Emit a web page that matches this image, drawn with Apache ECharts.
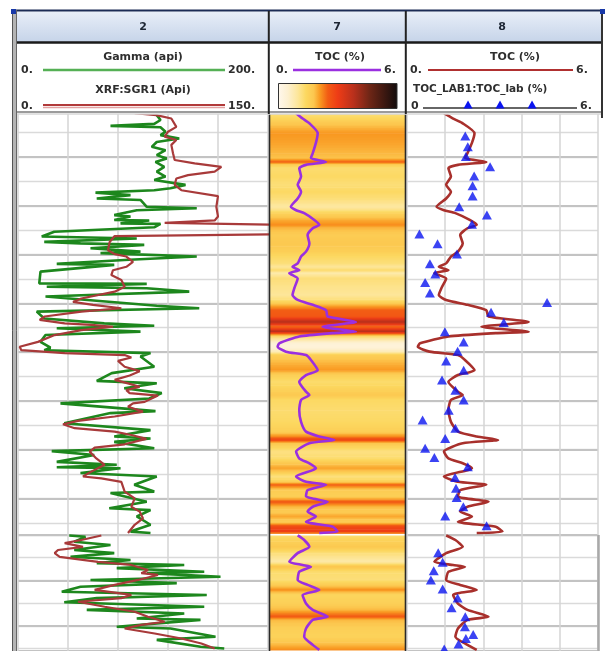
<!DOCTYPE html>
<html><head><meta charset="utf-8">
<script src="https://cdn.jsdelivr.net/npm/echarts@6/dist/echarts.min.js"></script>
<style>html,body{margin:0;padding:0;background:#fff}#c{width:605px;height:651px}</style>
</head><body><div id="c"></div>
<script>
// ---------------- data ----------------
const trackTitles = ['2', '7', '8'];
// Gamma (api), scale 0-200
const gammaDepth = [1.4,2.4,3.2,3.6,3.9,4.8,5.5,6.2,6.9,7.9,8.6,9.6,10.3,11.0,12.0,13.0,14.0,14.7,15.7,16.4,16.8,17.3,17.8,18.5,18.8,20.2,20.5,20.9,21.9,22.2,22.9,23.0,23.6,23.7,24.4,25.3,26.3,26.7,27.4,27.7,28.0,28.7,29.4,29.7,30.4,31.1,31.9,32.1,33.5,35.9,36.0,36.6,36.9,37.6,38.6,40.5,41.0,41.7,43.1,44.1,44.6,45.1,45.8,46.5,47.9,49.1,49.6,50.2,50.9,53.0,54.3,55.9,56.4,57.4,58.4,59.5,60.5,62.1,62.5,64.6,66.0,67.3,67.7,68.4,69.7,70.3,71.1,72.5,73.1,73.6,73.8,74.8,75.5,77.2,78.6,78.9,80.7,82.0,82.4,83.7,85.4,86.8,87.1,
  100.1,100.4,101.5,102.2,103.3,104.0,104.8,105.5,106.2,106.6,107.3,108.1,108.4,109.2,109.9,110.6,111.4,112.5,113.2,113.9,114.8,115.8,116.5,117.3,118.4,118.7,120.2,120.6,122.4,123.1,124.6,125.0];
const gammaValue = [111,114,109,74,114,118,114,129,111,107,118,111,119,110,117,111,118,109,134,122,109,62,90,63,98,103,143,95,77,90,77,105,82,114,109,29,19,95,21,50,101,58,98,66,143,85,31,77,18,17,103,23,103,137,22,111,145,15,21,69,109,31,98,22,18,26,21,106,98,109,75,63,111,85,115,105,34,110,74,37,106,77,106,77,109,27,61,31,79,31,82,50,111,93,109,74,103,73,106,95,106,90,106,
  41,54,45,74,45,77,42,90,63,133,79,149,103,162,58,127,50,35,151,63,37,149,55,133,95,146,79,122,158,111,146,165];
// XRF:SGR1 (Api), scale 0-150
const sgrDepth = [1.0,1.4,2.1,3.8,4.8,5.8,6.5,7.5,9.2,10.6,11.3,12.0,13.0,13.7,14.4,15.7,16.8,18.0,20.2,22.2,23.0,23.5,23.9,25.8,26.2,27.4,29.1,29.9,30.4,31.5,32.5,33.2,34.2,35.2,36.6,37.6,39.0,39.7,40.3,41.0,41.7,42.7,43.4,44.1,44.4,44.8,45.5,46.5,47.9,48.9,49.6,50.2,50.6,51.1,51.8,53.0,53.9,54.8,55.7,56.4,57.1,57.8,58.4,58.9,60.2,60.5,61.2,62.2,63.2,64.1,64.8,65.6,66.3,67.0,67.8,68.9,69.6,70.4,71.8,73.1,74.5,75.5,75.9,76.6,78.6,80.0,81.7,82.7,84.1,85.4,87.1,
  100.1,101.1,101.8,102.6,103.3,104.0,104.8,105.9,106.6,107.7,108.4,108.8,109.9,111.0,112.1,113.2,113.9,114.7,115.8,116.9,118.0,119.1,119.8,120.6,121.7,122.8,123.9,125.0];
const sgrValue = [70,83,92,95,90,88,95,92,93,94,106,122,118,102,95,94,98,120,119,120,118,88,160,160,58,55,54,58,65,69,65,57,56,62,64,58,38,33,45,62,38,16,13,28,44,57,38,22,12,1,2,28,64,68,60,64,73,67,58,66,73,65,67,84,76,69,66,75,58,36,27,34,58,68,77,64,46,43,47,52,44,39,50,62,64,70,68,73,75,70,66,
  50,38,28,39,24,22,25,48,68,78,74,84,72,58,46,68,62,36,52,70,78,88,74,64,82,98,110,118];
// TOC (%), scale 0-6 (tracks 7 and 8)
const tocDepth = [1.0,2.1,3.0,5.1,7.1,9.2,10.2,11.0,11.6,12.3,14.0,15.7,17.1,18.5,20.2,20.9,21.5,22.9,23.9,24.6,26.0,27.7,29.4,30.4,31.8,32.5,33.2,33.8,34.9,36.9,38.3,39.3,40.3,41.4,42.7,43.8,44.8,45.8,46.1,46.8,48.2,48.9,49.9,50.6,51.6,53.7,54.7,56.1,58.1,58.8,59.8,61.9,64.3,66.3,67.3,68.0,68.7,70.4,71.8,72.8,73.8,74.2,75.5,76.6,77.2,78.3,79.6,80.7,81.7,82.7,83.7,84.8,85.8,86.8,87.1,
  100.1,101.1,102.6,104.0,105.9,106.6,107.0,108.1,109.9,111.0,112.1,113.2,115.1,116.5,118.0,118.7,120.6,122.4,124.2,125.3];
const tocValue = [1.16,1.45,1.73,2.12,2.04,1.9,1.82,2.49,1.6,1.3,1.38,1.23,1.38,1.23,0.93,1.16,1.52,1.97,2.19,1.9,1.67,1.75,1.6,1.38,1.23,1.0,1.3,0.86,1.23,1.08,1.0,1.23,1.9,2.49,2.56,3.82,2.34,3.82,2.79,1.3,0.41,0.34,0.71,1.6,1.82,2.12,1.6,1.3,1.6,1.75,1.38,1.3,1.38,1.6,2.19,2.86,1.75,1.16,1.3,1.75,2.04,1.9,1.16,1.6,2.49,1.67,1.6,2.56,1.9,1.67,2.04,1.6,2.79,3.0,2.19,
  1.23,1.52,1.75,1.23,0.86,1.45,1.82,1.3,1.23,1.67,2.19,1.45,1.6,1.9,2.56,1.9,1.6,1.52,1.9,2.19];
// TOC_LAB1:TOC_lab (%), scale 0-6
const labDepth = [5.7,7.9,9.9,12.0,13.9,15.9,18.0,20.2,21.9,23.8,25.8,27.8,29.9,31.9,34.0,35.7,37.9,39.8,41.8,43.9,45.8,47.9,49.8,51.8,53.7,55.7,57.8,59.8,61.9,63.9,65.6,67.7,69.7,71.6,73.5,75.7,77.9,79.8,81.7,83.6,85.6,
  103.9,106.0,107.9,109.9,111.9,113.9,116.0,118.0,120.2,121.9,122.8,124.0,125.1];
const labValue = [1.83,1.91,1.85,2.61,2.11,2.06,2.06,1.64,2.51,2.04,0.39,0.96,1.57,0.72,0.89,0.57,0.72,4.4,2.64,3.04,1.19,1.78,1.59,1.23,1.78,1.1,1.52,1.78,1.31,0.49,1.52,1.2,0.57,0.86,1.91,1.51,1.54,1.56,1.77,1.2,2.5,
  0.98,1.12,0.84,0.75,1.12,1.59,1.4,1.83,1.82,2.08,1.85,1.62,1.17];

// ---------------- styling / layout ----------------
const tocStops = [[0,'#fff8ee'],[0.5,'#fdf0d0'],[1.0,'#fde69a'],[1.4,'#fcd860'],[1.8,'#fcc64e'],[2.1,'#f99a22'],[2.5,'#f25c14'],[3.0,'#ee3c16'],[3.8,'#b8301c'],[4.6,'#6e2616'],[6,'#120c0c']];
function h2r(h){return [parseInt(h.slice(1,3),16),parseInt(h.slice(3,5),16),parseInt(h.slice(5,7),16)];}
function tocColor(v){
  v = Math.max(0, Math.min(6, v));
  for (let i=0;i<tocStops.length-1;i++){
    const a=tocStops[i], b=tocStops[i+1];
    if (v<=b[0]){
      const t=(v-a[0])/(b[0]-a[0]); const ca=h2r(a[1]), cb=h2r(b[1]);
      return 'rgb('+ca.map((c,k)=>Math.round(c+(cb[k]-c)*t)).join(',')+')';
    }
  }
  return tocStops[tocStops.length-1][1];
}
const tracks = [{left:18,width:250},{left:270,width:135},{left:407,width:191}];
const segs = [{top:108.3,height:426.7,min:0,max:87.5},{top:535,height:116,min:100,max:125.55}];
const minorLine = {color:'#dadada', width:1.3};
const majorLine = {color:'#c3c3c3', width:2};
const vLine = {color:'#d4d4d4', width:1.5};

function isLowerDepth(d){ return d >= 95; }
function pairs(depths, values, lower){
  const out=[];
  for (let i=0;i<depths.length;i++) if (isLowerDepth(depths[i])===lower) out.push([values[i], depths[i]]);
  return out;
}
function bandData(lower){
  const out=[];
  for (let i=0;i<tocDepth.length-1;i++){
    if (isLowerDepth(tocDepth[i])===lower && isLowerDepth(tocDepth[i+1])===lower)
      out.push([tocDepth[i], tocValue[i], tocDepth[i+1], tocValue[i+1]]);
  }
  return out;
}
function bandItem(params, api){
  const d0=api.value(0), v0=api.value(1), d1=api.value(2), v1=api.value(3);
  const N=6, children=[];
  for (let k=0;k<N;k++){
    const a=d0+(d1-d0)*k/N, b=d0+(d1-d0)*(k+1)/N, v=v0+(v1-v0)*(k+0.5)/N;
    const p0=api.coord([0,a]), p1=api.coord([6,b]);
    children.push({type:'rect', shape:{x:p0[0], y:p0[1], width:p1[0]-p0[0], height:p1[1]-p0[1]+0.7}, style:{fill:tocColor(v)}});
  }
  return {type:'group', children};
}

const grids=[], xAxes=[], yAxes=[], series=[], ax={};
function yAxis(gi,s,interval,split){
  return {type:'value', gridIndex:gi, inverse:true, min:s.min, max:s.max, interval,
    axisLine:{show:false}, axisTick:{show:false}, axisLabel:{show:false},
    splitLine: split?{show:true, lineStyle:split}:{show:false}};
}
function xAxis(gi,min,max,interval,split){
  return {type:'value', gridIndex:gi, position:'top', min, max, interval,
    axisLine:{show:false}, axisTick:{show:false}, axisLabel:{show:false},
    splitLine: split?{show:true, lineStyle:split}:{show:false}};
}
segs.forEach((s,si)=>{
  tracks.forEach((t,ti)=>{
    const gi=grids.length;
    grids.push({left:t.left, top:s.top, width:t.width, height:s.height, containLabel:false, outerBoundsMode:'none', show:false});
    const showGrid = ti!==1;
    ax['y'+si+ti]=yAxes.length;
    yAxes.push(yAxis(gi,s,5,showGrid?minorLine:null));
    yAxes.push(yAxis(gi,s,10,showGrid?majorLine:null));
    if (ti===0){ ax['xg'+si]=xAxes.length; xAxes.push(xAxis(gi,0,200,40,vLine)); ax['xs'+si]=xAxes.length; xAxes.push(xAxis(gi,0,150,30,null)); }
    else if (ti===1){ ax['x7'+si]=xAxes.length; xAxes.push(xAxis(gi,0,6,1,null)); }
    else { ax['x8'+si]=xAxes.length; xAxes.push(xAxis(gi,0,6,1.2,vLine)); }
  });
});
segs.forEach((s,si)=>{
  const lower = si===1;
  series.push({type:'line', name:'Gamma', xAxisIndex:ax['xg'+si], yAxisIndex:ax['y'+si+'0'], data:pairs(gammaDepth,gammaValue,lower),
    symbol:'none', lineStyle:{color:'#1d871d', width:2.6}, z:3, silent:true, animation:false});
  series.push({type:'line', name:'SGR1', xAxisIndex:ax['xs'+si], yAxisIndex:ax['y'+si+'0'], data:pairs(sgrDepth,sgrValue,lower),
    symbol:'none', lineStyle:{color:'#a83a3a', width:2.2}, z:4, silent:true, animation:false});
  series.push({type:'custom', name:'TOC band', xAxisIndex:ax['x7'+si], yAxisIndex:ax['y'+si+'1'], data:bandData(lower),
    encode:{x:[1,3], y:[0,2]}, renderItem:bandItem, clip:true, z:1, silent:true, animation:false});
  series.push({type:'line', name:'TOC7', xAxisIndex:ax['x7'+si], yAxisIndex:ax['y'+si+'1'], data:pairs(tocDepth,tocValue,lower),
    symbol:'none', smooth:0.2, lineStyle:{color:'#9a2fe0', width:2.6}, z:3, silent:true, animation:false});
  series.push({type:'line', name:'TOC8', xAxisIndex:ax['x8'+si], yAxisIndex:ax['y'+si+'2'], data:pairs(tocDepth,tocValue,lower),
    symbol:'none', smooth:0.2, lineStyle:{color:'#a8302c', width:2.6}, z:3, silent:true, animation:false});
  series.push({type:'scatter', name:'TOC_lab', xAxisIndex:ax['x8'+si], yAxisIndex:ax['y'+si+'2'], data:pairs(labDepth,labValue,lower),
    symbol:'triangle', symbolSize:[10,9], itemStyle:{color:'#0a14f0'}, z:5, silent:true, animation:false});
});

// ---------------- header graphics ----------------
const HF = '"DejaVu Sans", Verdana, sans-serif';
function txt(text,x,y,align,size,color){
  return {type:'text', z:110, silent:true, style:{text, x, y, font:'bold '+(size||11)+'px '+HF, fill:color||'#2e2e2e',
    align:align||'center', textAlign:align||'center', verticalAlign:'middle', textVerticalAlign:'middle'}};
}
function ln(x1,y1,x2,y2,color,w,z){ return {type:'line', z:z||105, silent:true, shape:{x1,y1,x2,y2}, style:{stroke:color, lineWidth:w}}; }
function rc(x,y,w,h,fill,stroke,lw,z){ return {type:'rect', z:z||102, silent:true, shape:{x,y,width:w,height:h}, style:{fill, stroke:stroke||null, lineWidth:lw||0}}; }
function tri(x,y){ return {type:'polygon', z:110, silent:true, shape:{points:[[x-4.5,y+4],[x+4.5,y+4],[x,y-4]]}, style:{fill:'#0a14f0'}}; }

const G = [];
G.push(rc(12,8,593,106.5,'#ffffff',null,0,100));
G.push(rc(17,11.5,584,30.5,new echarts.graphic.LinearGradient(0,0,0,1,[{offset:0,color:'#e8eef8'},{offset:1,color:'#c6d4e9'}]),null,0,101));
G.push(ln(12,10.5,603,10.5,'#1b2b55',2));
G.push(ln(17,42.5,601,42.5,'#1a1a1a',2.5));
G.push(ln(17,112,601,112,'#7a7a7a',1.5));
G.push(ln(17,114,601,114,'#c4c4c4',1));
G.push(ln(268.8,11,268.8,114,'#222',2));
G.push(ln(405.8,11,405.8,114,'#222',2));
G.push(ln(602,10,602,118,'#333',2));
// outer left border
G.push(rc(12,10,5,641,'#b4b4b4',null,0,104));
G.push(ln(12.5,10,12.5,651,'#555',1));
G.push(ln(16.5,10,16.5,651,'#666',1));
G.push(rc(11,9,5,5,'#1838a8',null,0,111));
G.push(rc(600,9,5,5,'#1838a8',null,0,111));
// plot-area borders
G.push(ln(269.5,114,269.5,651,'#2a2a2a',1.6,60));
G.push(ln(405.5,114,405.5,651,'#2a2a2a',1.6,60));
G.push(ln(598.5,535,598.5,651,'#a9a9a9',2.5,60));
// titles
G.push(txt(trackTitles[0],143,27,'center',11,'#1c2533'));
G.push(txt(trackTitles[1],337,27,'center',11,'#1c2533'));
G.push(txt(trackTitles[2],502,27,'center',11,'#1c2533'));
// track 2 header
G.push(txt('Gamma (api)',143,57));
G.push(txt('0.',21,70,'left'));
G.push(ln(43,70,225,70,'#55b055',2.5,106));
G.push(txt('200.',228,70,'left'));
G.push(txt('XRF:SGR1 (Api)',143,90));
G.push(txt('0.',21,106,'left'));
G.push(ln(43,105,225,105,'#b13a3a',2,106));
G.push(ln(43,107.5,225,107.5,'#e2a2a2',1.6,106));
G.push(txt('150.',228,106,'left'));
// track 7 header
G.push(txt('TOC (%)',340,57));
G.push(txt('0.',276,70,'left'));
G.push(ln(293,70,381,70,'#9a2fe0',2.6,106));
G.push(txt('6.',384,70,'left'));
G.push(rc(278.5,83.5,118.5,25,new echarts.graphic.LinearGradient(0,0,1,0,tocStops.map(s=>({offset:s[0]/6,color:s[1]}))),'#333',1,103));
// track 8 header
G.push(txt('TOC (%)',515,57));
G.push(txt('0.',410,70,'left'));
G.push(ln(428,70,573,70,'#b03030',2.2,106));
G.push(txt('6.',576,70,'left'));
G.push(txt('TOC_LAB1:TOC_lab (%)',413,89,'left',10.5));
G.push(txt('0',411,106,'left'));
G.push(ln(423,108,577,108,'#333',1.5,106));
G.push(tri(468,104.5)); G.push(tri(500,104.5)); G.push(tri(532,104.5));
G.push(txt('6.',580,106,'left'));

const chart = echarts.init(document.getElementById('c'), null, {renderer:'canvas', width:605, height:651});
chart.setOption({
  animation:false,
  backgroundColor:'#ffffff',
  grid:grids, xAxis:xAxes, yAxis:yAxes, series,
  graphic:{elements:G}
});
</script>
</body></html>
